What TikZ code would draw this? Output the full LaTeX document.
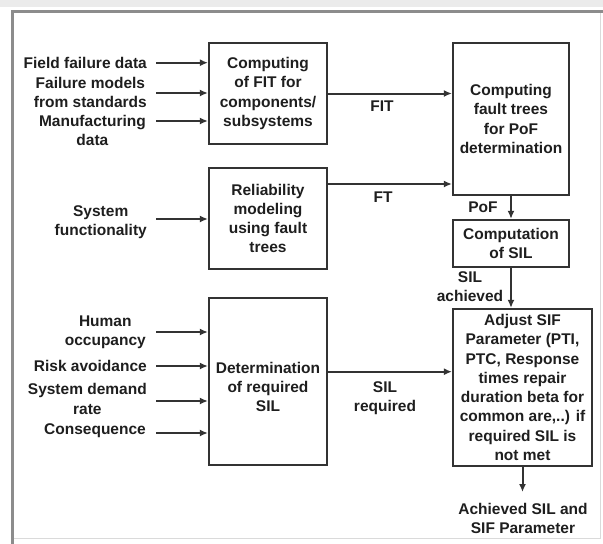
\documentclass[tikz,border=0pt]{standalone}
\usepackage{fontspec}
\setmainfont{Liberation Sans}
\usetikzlibrary{arrows.meta}
\definecolor{ink}{HTML}{1E1E1E}
\definecolor{boxline}{HTML}{333333}
\definecolor{framec}{HTML}{8C8C8C}
\definecolor{bandc}{HTML}{EBEBEB}
\definecolor{faintc}{HTML}{DADADA}
\begin{document}
\begin{tikzpicture}[x=1pt,y=-1pt,
  txt/.style={font=\bfseries\fontsize{15.5}{19.3}\selectfont, text=ink, align=center, inner sep=0pt},
  box/.style={draw=boxline, line width=2.2pt, txt},
  arr/.style={-{Latex[length=8pt,width=7pt]}, draw=boxline, line width=2pt}]
\useasboundingbox (0,0) rectangle (603,544);
% frame
\fill[bandc] (0,0) rectangle (603,7);
\draw[faintc, line width=1pt] (600,12) -- (600,538) -- (12,538);
\draw[framec, line width=2.5pt] (12.5,544) -- (12.5,11.5) -- (603,11.5);
% boxes
\node[box, minimum width=118pt, minimum height=101pt] (b1) at (268,93.5) {Computing\\of FIT for\\components/\\subsystems};
\node[box, minimum width=118pt, minimum height=101pt] (b2) at (268,218.5) {Reliability\\modeling\\using fault\\trees};
\node[box, minimum width=116pt, minimum height=152pt] (b3) at (511,119) {Computing\\fault trees\\for PoF\\determination};
\node[box, minimum width=116pt, minimum height=46.7pt] (b4) at (511,243.3) {Computation\\of SIL};
\node[box, minimum width=118pt, minimum height=167pt] (b5) at (268,381.5) {};
\node[txt] (b5t) at (268,387) {Determination\\of required\\SIL};
\node[box, minimum width=139pt, minimum height=157pt] (b6) at (522.5,387.5) {Adjust SIF\\Parameter (PTI,\\PTC, Response\\times repair\\duration beta for\\common are,..) if\\required SIL is\\not met};
% input labels
\node[txt, anchor=east] (l1) at (147,62.5) {Field failure data};
\node[txt, anchor=east] (l2) at (147,92.5) {Failure models\\from standards};
\node[txt, anchor=east] (l3) at (146,130.5) {Manufacturing\\data};
\node[txt, anchor=east] (l4) at (147,222.5) {System\\functionality};
\node[txt, anchor=east] (l5) at (146,332) {Human\\occupancy};
\node[txt, anchor=east] (l6) at (147,366) {Risk avoidance};
\node[txt, anchor=east] (l7) at (147,399) {System demand\\rate};
\node[txt, anchor=east] (l8) at (146,431) {Consequence};
% input arrow starts
\coordinate (i1) at (156,62.7);
\coordinate (i2) at (156,93);
\coordinate (i3) at (156,121);
\coordinate (i4) at (156,219);
\coordinate (i5) at (156,332);
\coordinate (i6) at (156,366);
\coordinate (i7) at (156,401);
\coordinate (i8) at (156,433);
\foreach \c/\b in {i1/b1,i2/b1,i3/b1,i4/b2,i5/b5,i6/b5,i7/b5,i8/b5}
  \draw[arr] (\c) -- (\c -| \b.west);
% internal connectors
\draw[arr] (b1.east) -- (b1.east -| b3.west);
\draw[arr] (b2.east |- 0,184) -- (b3.west |- 0,184);
\draw[arr] (b3.south) -- (b4.north);
\draw[arr] (b4.south) -- (b4.south |- b6.north);
\draw[arr] (b5.east |- 0,371.7) -- (b6.west |- 0,371.7);
\coordinate (out) at (522.5,492);
\draw[arr] (b6.south) -- (out);
% connector labels
\node[txt] (lfit) at (382,106) {FIT};
\node[txt] (lft) at (383,197) {FT};
\node[txt] (lpof) at (483,207) {PoF};
\node[txt] (lach) at (470,286.5) {SIL\\achieved};
\node[txt] (lreq) at (385,398.5) {SIL\\required};
\node[txt] (lout) at (523,518.5) {Achieved SIL and\\SIF Parameter};
\end{tikzpicture}
\end{document}
